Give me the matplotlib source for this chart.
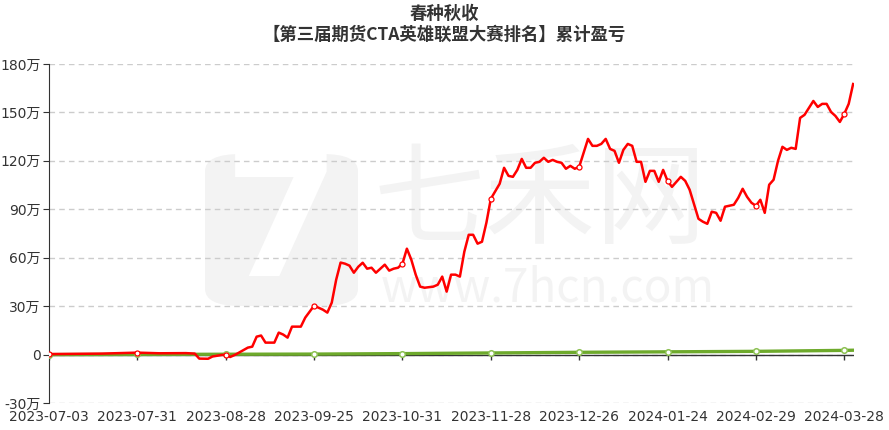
# -*- coding: utf-8 -*-
"""
春种秋收 累计盈亏曲线
"""
import matplotlib
matplotlib.use('Agg')
import matplotlib.pyplot as plt
from matplotlib.patches import FancyBboxPatch

plt.rcParams['font.family'] = ['DejaVu Sans', 'Noto Sans CJK SC']
plt.rcParams['axes.unicode_minus'] = False

# 交易日序号 与 累计盈亏(万)
red_idx = [0, 12, 20, 25, 31, 33, 34, 36, 37, 39, 40, 41, 42, 43, 45, 46, 47, 48, 49, 51,
           52, 53, 54, 55, 57, 58, 59, 60, 62, 63, 64, 65, 66, 67, 68, 69, 70, 71, 72, 73,
           74, 76, 77, 78, 79, 80, 81, 82, 83, 84, 85, 87, 88, 89, 90, 91, 92, 93, 94, 95,
           96, 97, 98, 99, 100, 102, 103, 104, 105, 106, 107, 108, 109, 110, 111, 112, 113, 114, 115, 116,
           117, 118, 119, 120, 121, 122, 123, 124, 125, 126, 127, 128, 129, 130, 131, 132, 133, 134, 135, 136,
           137, 138, 139, 140, 141, 143, 144, 145, 147, 148, 149, 150, 151, 152, 153, 155, 156, 157, 158, 159,
           160, 161, 162, 163, 164, 165, 166, 167, 168, 169, 170, 171, 173, 174, 175, 176, 177, 178, 179, 180,
           181, 182]
red_val = [0.3, 0.6, 1.2, 0.8, 0.9, 0.6, -2.5, -2.6, -1.2, -0.3, 0.0, -1.5, -0.3, 1.2, 4.3, 4.9, 11.1, 11.8, 7.4, 7.4,
           13.6, 12.4, 10.5, 17.3, 17.3, 22.9, 26.6, 30.3, 27.8, 26.0, 32.2, 46.4, 57.0, 56.3, 55.1, 50.7, 54.4, 56.9, 53.2, 53.8,
           50.7, 55.7, 52.0, 53.2, 53.8, 56.3, 65.6, 58.8, 49.5, 42.1, 41.4, 42.1, 43.3, 48.3, 39.0, 49.5, 49.5, 48.3, 63.7, 74.2,
           74.2, 68.7, 69.9, 81.7, 96.5, 105.8, 115.7, 110.7, 110.1, 114.4, 121.2, 115.7, 115.7, 118.8, 119.4, 121.9, 119.4, 120.6, 119.4, 118.8,
           115.1, 116.9, 115.1, 116.3, 125.0, 133.6, 129.3, 129.3, 130.5, 133.6, 127.4, 126.2, 118.8, 126.8, 130.5, 129.3, 119.4, 119.4, 107.0, 113.8,
           113.8, 107.0, 114.4, 107.6, 103.9, 110.1, 107.6, 102.1, 84.1, 82.3, 81.0, 88.5, 87.8, 82.9, 91.6, 92.8, 97.1, 102.7, 97.7, 94.0,
           92.2, 95.9, 87.8, 105.2, 108.3, 120.0, 128.7, 126.8, 128.1, 127.4, 146.6, 148.5, 157.1, 153.4, 155.3, 155.3, 150.3, 147.8, 144.1, 149.1,
           155.3, 167.6]

green_idx = [0, 20, 40, 60, 80, 100, 120, 140, 160, 180, 182]
green_val = [0.0, 0.1, 0.2, 0.3, 0.6, 1.0, 1.4, 1.7, 2.0, 2.6, 2.7]

tick_idx = [0, 20, 40, 60, 80, 100, 120, 140, 160, 180]
tick_lab = ['2023-07-03', '2023-07-31', '2023-08-28', '2023-09-25', '2023-10-31',
            '2023-11-28', '2023-12-26', '2024-01-24', '2024-02-29', '2024-03-28']
y_ticks = [-30, 0, 30, 60, 90, 120, 150, 180]
y_labs = ['-30万', '0', '30万', '60万', '90万', '120万', '150万', '180万']

W, H = 889, 430
fig = plt.figure(figsize=(W / 100, H / 100), dpi=100)
ax = fig.add_axes([49 / W, (H - 403) / H, (854 - 49) / W, (403 - 64) / H])
ax.set_facecolor('none')

# 水印
wm = '#f3f3f3'
logo = FancyBboxPatch((205 / W, (H - 306) / H), 153 / W, 152 / H,
                      boxstyle='round,pad=0,rounding_size=0.04', transform=fig.transFigure,
                      facecolor=wm, edgecolor='none', zorder=0.1)
ax.add_patch(logo)
logo.set_clip_on(False)
ax.text(282 / W, (H - 230) / H, '7', transform=fig.transFigure, fontsize=120, fontweight='bold',
        color='white', ha='center', va='center', zorder=0.2, family=['DejaVu Sans'])
ax.text(540 / W, (H - 203) / H, '七禾网', transform=fig.transFigure, fontsize=80,
        color=wm, ha='center', va='center', zorder=0.2, family=['Noto Sans CJK SC'])
ax.text(548 / W, (H - 288) / H, 'www.7hcn.com', transform=fig.transFigure, fontsize=33,
        color=wm, ha='center', va='center', zorder=0.2, family=['Noto Sans CJK SC'])

# 曲线
red_mark = [red_idx.index(t) for t in tick_idx]
ax.plot(green_idx, green_val, color='#6eaa2c', lw=2.4, zorder=3,
        marker='o', markevery=list(range(10)), markersize=4,
        markerfacecolor='white', markeredgecolor='#8cc152', markeredgewidth=1.1)
ax.plot(red_idx, red_val, color='#ff0000', lw=1.8, zorder=4,
        marker='o', markevery=red_mark, markersize=3.6,
        markerfacecolor='white', markeredgecolor='#ff0000', markeredgewidth=0.9)

ax.set_xlim(0, 182.2)
ax.set_ylim(-30, 180)
ax.set_yticks(y_ticks)
ax.set_yticklabels(y_labs)
ax.set_xticks(tick_idx)
ax.set_xticklabels(tick_lab)
ax.grid(axis='y', ls=(0, (4, 3)), color='#cccccc', lw=1)
ax.set_axisbelow(True)

for s in ['top', 'right', 'bottom']:
    ax.spines[s].set_visible(False)
ax.spines['left'].set_color('#333333')
ax.axhline(0, color='#333333', lw=1, zorder=2.6)
ax.vlines(tick_idx, -3.2, 0, color='#333333', lw=1, zorder=2.6)

ax.tick_params(axis='y', length=4, color='#333333', labelsize=10, labelcolor='#333333', pad=2)
ax.tick_params(axis='x', length=0, labelsize=10, labelcolor='#333333', pad=5)

fig.text(0.5, 1 - 14 / H, '春种秋收', ha='center', va='center', fontsize=12.5,
         fontweight='bold', color='#333333', family=['Noto Sans CJK SC', 'DejaVu Sans'])
fig.text(0.5, 1 - 35 / H, '【第三届期货CTA英雄联盟大赛排名】累计盈亏', ha='center', va='center',
         fontsize=12.5, fontweight='bold', color='#333333', family=['Noto Sans CJK SC', 'DejaVu Sans'])

fig.savefig('out.png', dpi=100)
